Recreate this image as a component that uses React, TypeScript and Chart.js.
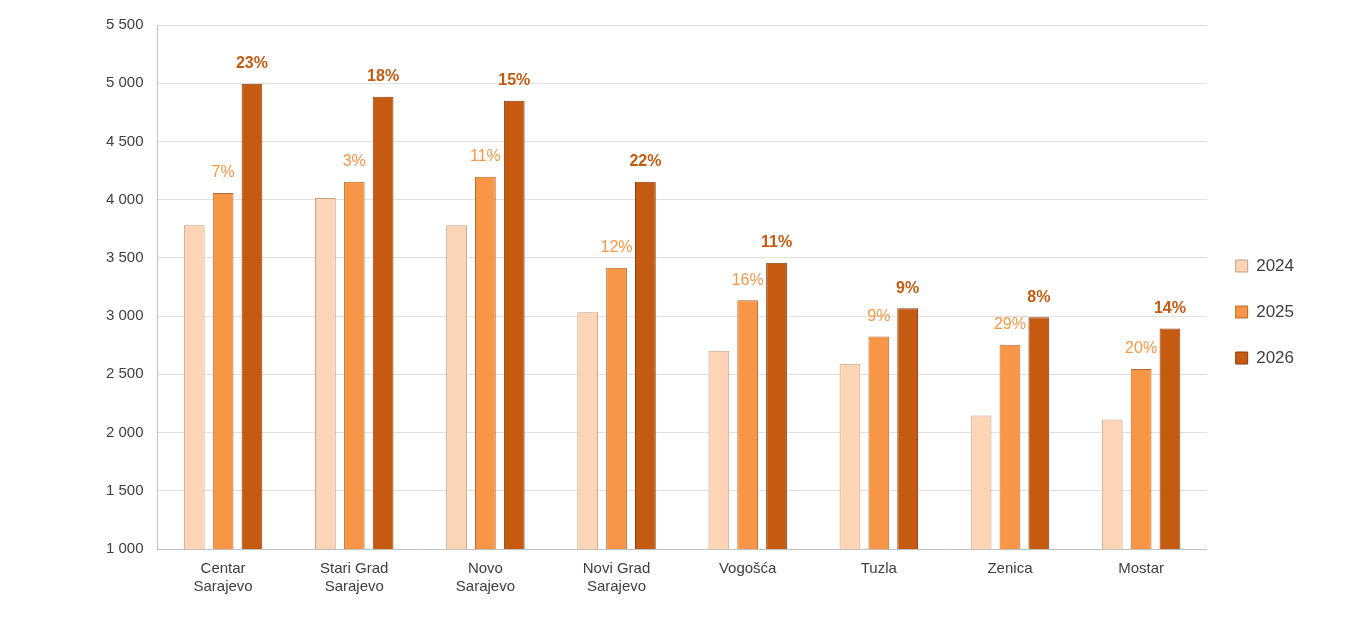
import React, { useEffect, useRef } from "react";
import { Chart, registerables } from "chart.js";
Chart.register(...registerables);

const categories = [["Centar", "Sarajevo"], ["Stari Grad", "Sarajevo"], ["Novo", "Sarajevo"], ["Novi Grad", "Sarajevo"], "Vogošća", "Tuzla", "Zenica", "Mostar"];
const v2024 = [3780, 4015, 3780, 3033, 2703, 2590, 2147, 2112];
const v2025 = [4058, 4154, 4197, 3415, 3137, 2824, 2755, 2546];
const v2026 = [4996, 4883, 4849, 4154, 3459, 3068, 2990, 2894];
const pct2025 = ["7%", "3%", "11%", "12%", "16%", "9%", "29%", "20%"];
const pct2026 = ["23%", "18%", "15%", "22%", "11%", "9%", "8%", "14%"];

const labelPlugin = {
  id: "pctLabels",
  afterDatasetsDraw(chart: any) {
    const ctx = chart.ctx;
    ctx.save();
    ctx.textAlign = "center";
    ctx.textBaseline = "bottom";
    const draw = (di: number, labels: string[], color: string, bold: boolean) => {
      chart.getDatasetMeta(di).data.forEach((el: any, i: number) => {
        ctx.fillStyle = color;
        ctx.font = `${bold ? "bold " : ""}16px "Liberation Sans", Arial`;
        ctx.fillText(labels[i], el.x, el.y - 12);
      });
    };
    draw(1, pct2025, "#F79646", false);
    draw(2, pct2026, "#C55A11", true);
    ctx.restore();
  },
};

export default function App() {
  const ref = useRef<HTMLCanvasElement>(null);
  useEffect(() => {
    document.body.style.margin = "0";
    const ds = (label: string, data: number[], bg: string, bc: string) => ({
      label, data, backgroundColor: bg, borderColor: bc, borderWidth: 1,
      categoryPercentage: 0.66, barPercentage: 0.72,
    });
    const chart = new Chart(ref.current!, {
      type: "bar",
      data: {
        labels: categories as any,
        datasets: [
          ds("2024", v2024, "#FBD5B5", "#C9A080"),
          ds("2025", v2025, "#F79646", "#B86A2E"),
          ds("2026", v2026, "#C55A11", "#8A3E0B"),
        ],
      },
      options: {
        animation: false,
        responsive: false,
        layout: { padding: { left: 92, right: 62, top: 25, bottom: 28 } },
        plugins: {
          legend: {
            position: "right",
            labels: { boxWidth: 12, boxHeight: 12, padding: 29, color: "#404040", font: { size: 17, family: '"Liberation Sans", Arial' } },
          },
          tooltip: { enabled: false },
        },
        scales: {
          x: {
            grid: { display: false },
            border: { color: "#BFBFBF" },
            ticks: { color: "#404040", font: { size: 15, family: '"Liberation Sans", Arial' } },
          },
          y: {
            min: 1000, max: 5500,
            ticks: { stepSize: 500, color: "#404040", padding: 14, font: { size: 15, family: '"Liberation Sans", Arial' },
              callback: (v: any) => Number(v).toLocaleString("en").replace(",", " ") },
            grid: { color: "#E0E0E0", drawTicks: false },
            border: { color: "#BFBFBF" },
          },
        },
      },
      plugins: [labelPlugin],
    });
    return () => chart.destroy();
  }, []);
  return <canvas ref={ref} width={1366} height={627} style={{ display: "block" }} />;
}
